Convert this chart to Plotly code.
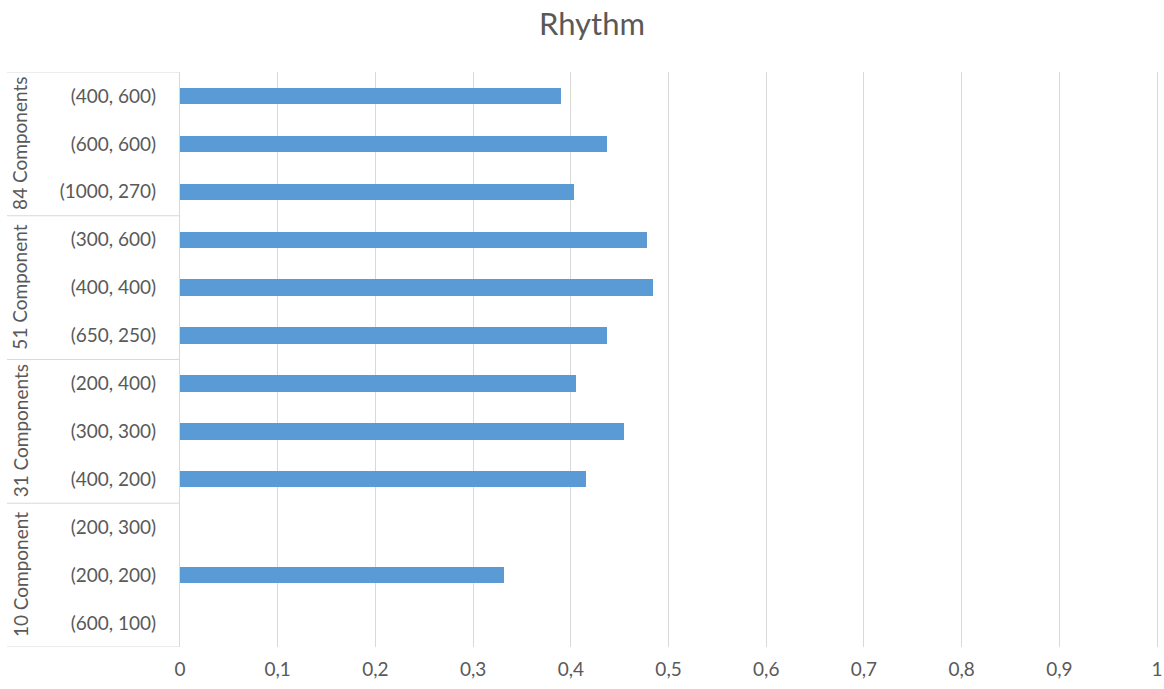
import plotly.graph_objects as go

title = "Rhythm"
categories = ["(400, 600)", "(600, 600)", "(1000, 270)",
              "(300, 600)", "(400, 400)", "(650, 250)",
              "(200, 400)", "(300, 300)", "(400, 200)",
              "(200, 300)", "(200, 200)", "(600, 100)"]
values = [0.390, 0.437, 0.403,
          0.478, 0.484, 0.437,
          0.405, 0.454, 0.416,
          None, 0.332, None]
groups = ["84 Components", "51 Component", "31 Components", "10 Component"]
group_sizes = [3, 3, 3, 3]
x_ticks = [0, 0.1, 0.2, 0.3, 0.4, 0.5, 0.6, 0.7, 0.8, 0.9, 1]
x_ticktext = ["0", "0,1", "0,2", "0,3", "0,4", "0,5", "0,6", "0,7", "0,8", "0,9", "1"]

W, H = 1164, 689
X_MAX = 1.003
ML, MT = 180, 72
MR = W - ML - round(977 * X_MAX)
MB = H - 647
plot_w = W - ML - MR
FONT = "Lato"
TXT = "#595959"
GRID = "#D9D9D9"

fig = go.Figure()
fig.add_trace(go.Bar(
    y=list(range(len(categories))), x=values, orientation="h",
    width=0.34, marker=dict(color="#5B9BD5", line=dict(width=0)),
    showlegend=False, hoverinfo="x+y",
))

shapes = []
annotations = []
x_left = (7 - ML) / plot_w
grp_x = (20 - ML) / plot_w
start = 0
bounds = [-0.5]
for g, n in zip(groups, group_sizes):
    end = start + n
    bounds.append(end - 0.5)
    annotations.append(dict(
        x=grp_x, xref="paper", y=(start + end - 1) / 2, yref="y",
        text=g, textangle=-90, showarrow=False,
        font=dict(family=FONT, size=19, color=TXT),
        xanchor="center", yanchor="middle"))
    start = end
for b in bounds:
    shapes.append(dict(type="line", xref="paper", yref="y",
                       x0=x_left, x1=0, y0=b, y1=b,
                       line=dict(color=GRID, width=1)))

fig.update_layout(
    width=W, height=H,
    margin=dict(l=ML, r=MR, t=MT, b=MB, autoexpand=False),
    paper_bgcolor="white", plot_bgcolor="white",
    title=dict(text=title, x=592 / W, xref="container", xanchor="center",
               y=1 - 24 / H, yref="container", yanchor="middle",
               font=dict(family=FONT, size=31, color=TXT)),
    xaxis=dict(range=[0, X_MAX], tickvals=x_ticks, ticktext=x_ticktext,
               showgrid=True, gridcolor=GRID, gridwidth=1,
               zeroline=False, showline=False, ticks="",
               automargin=False, ticklabeloverflow="allow",
               ticklabelstandoff=9,
               tickfont=dict(family=FONT, size=19, color=TXT),
               fixedrange=True),
    yaxis=dict(tickvals=list(range(len(categories))), ticktext=categories,
               range=[len(categories) - 0.5, -0.5],
               showgrid=False, zeroline=False,
               showline=True, linecolor=GRID, linewidth=1,
               ticks="", ticklabelstandoff=19, automargin=False,
               tickfont=dict(family=FONT, size=19, color=TXT),
               fixedrange=True),
    shapes=shapes, annotations=annotations,
    bargap=0,
)

fig.write_html(
    "out.html",
    config={"displayModeBar": False},
    post_script="document.documentElement.style.margin='0';"
                "document.body.style.margin='0';"
                "document.body.style.overflow='hidden';",
)
